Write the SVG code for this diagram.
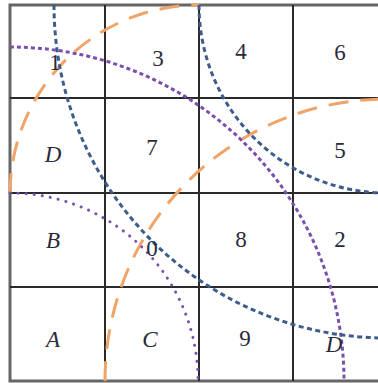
<svg xmlns="http://www.w3.org/2000/svg" width="378" height="383" viewBox="0 0 378 383">
<style>
.grid{stroke:#2a2a2a;stroke-width:2;fill:none}
.border{stroke:#666;stroke-width:3;fill:none}
.arc{fill:none;stroke-width:3}
.orange{stroke:#f0a468;stroke-dasharray:20 12}
.purple{stroke:#7a4fae;stroke-dasharray:4 3}
.purple-dots{stroke:#7a4fae;stroke-width:3;stroke-linecap:round;stroke-dasharray:0.1 8}
.blue{stroke:#3d5c8c;stroke-dasharray:5 3.5}
text{font-family:"Liberation Serif","Times New Roman",serif;font-size:23px;fill:#2a2a3a;text-anchor:middle}
.it{font-style:italic}
</style>
<rect width="378" height="383" fill="#fff"/>
<g id="grid">
<path class="border" d="M 390 5 H 10 V 381 H 390"/>
<path class="grid" d="M 105 5 V 381 M 199 5 V 381 M 293 5 V 381 M 10 98 H 390 M 10 193 H 390 M 10 287 H 390"/>
</g>
<g id="connectors">
<path class="arc orange" d="M 10 193 A 189 189 0 0 1 199 5"/>
<path class="arc orange" d="M 105 381 A 282 282 0 0 1 387 99"/>
<path class="arc purple" d="M 10 47 A 334 334 0 0 1 344 381"/>
<path class="arc purple-dots" d="M 10 193 A 188 188 0 0 1 198 381"/>
<path class="arc blue" d="M 54 5 A 333 333 0 0 0 387 338"/>
<path class="arc blue" d="M 199 5 A 188 188 0 0 0 387 193"/>
</g>
<g id="n1"><text x="55" y="70">1</text></g>
<g id="n3"><text x="158" y="66">3</text></g>
<g id="n4"><text x="241" y="59">4</text></g>
<g id="n6"><text x="340" y="60">6</text></g>
<g id="nD1"><text class="it" x="53" y="162">D</text></g>
<g id="n7"><text x="152" y="155">7</text></g>
<g id="n5"><text x="340" y="158">5</text></g>
<g id="nB"><text class="it" x="53" y="248">B</text></g>
<g id="n0"><text x="152" y="256">0</text></g>
<g id="n8"><text x="241" y="247">8</text></g>
<g id="n2"><text x="340" y="247">2</text></g>
<g id="nA"><text class="it" x="53" y="347">A</text></g>
<g id="nC"><text class="it" x="150" y="347">C</text></g>
<g id="n9"><text x="245" y="346">9</text></g>
<g id="nD2"><text class="it" x="334" y="352">D</text></g>
</svg>
